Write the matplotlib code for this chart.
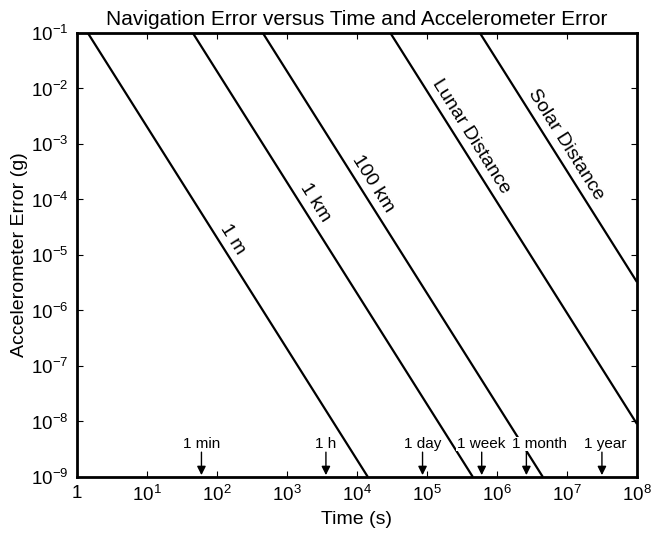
import matplotlib
matplotlib.use("Agg")
import matplotlib.pyplot as plt
import numpy as np

plt.rcParams['font.family'] = ['Liberation Sans', 'DejaVu Sans']
plt.rcParams['mathtext.fontset'] = 'custom'
plt.rcParams['mathtext.rm'] = 'Liberation Sans'
plt.rcParams['mathtext.it'] = 'Liberation Sans'

# navigation error lines: end points (time s, accel error g)
line_names = ['1 m', '1 km', '100 km', 'Lunar Distance', 'Solar Distance']
line_t = [[1.43, 1.43e4], [45.2, 4.52e5], [452, 4.52e6], [3.0e4, 1e8], [5.7e5, 1e8]]
line_a = [[1e-1, 1e-9], [1e-1, 1e-9], [1e-1, 1e-9], [1e-1, 9e-9], [1e-1, 3.25e-6]]

# time where each label sits on its line
label_t = [118, 1750, 1.18e4, 2.96e5, 6.7e6]

# time markers
event_names = ['1 min', '1 h', '1 day', '1 week', '1 month', '1 year']
event_t = [60, 3600, 86400, 604800, 2.63e6, 3.156e7]
event_label_t = [60, 3600, 86400, 5.9e5, 4.1e6, 3.5e7]

xticks = [1e0, 1e1, 1e2, 1e3, 1e4, 1e5, 1e6, 1e7, 1e8]
xticklabels = ['1'] + [r'$10^{%d}$' % i for i in range(1, 9)]
yticks = [10.0 ** -i for i in range(9, 0, -1)]
yticklabels = [r'$10^{-%d}$' % i for i in range(9, 0, -1)]

fig = plt.figure(figsize=(6.54, 5.40), dpi=100)
ax = fig.add_axes([0.1177, 0.1167, 0.8563, 0.8222])

for t, a in zip(line_t, line_a):
    ax.plot(t, a, color='black', lw=1.6, solid_capstyle='butt')

# put each name just above its line, parallel to it
for name, lt, t, a in zip(line_names, label_t, line_t, line_a):
    la = 10 ** np.interp(np.log10(lt), np.log10(t), np.log10(a))
    ax.annotate(name, xy=(lt, la), xytext=(2.5, 1.6), textcoords='offset points',
                rotation=-57.8, ha='center', va='bottom',
                rotation_mode='anchor', fontsize=14)

for name, t, tl in zip(event_names, event_t, event_label_t):
    ax.annotate('', xy=(t, 1.08e-9), xytext=(t, 2.8e-9),
                arrowprops=dict(arrowstyle='-|>', color='black', lw=1.0,
                                mutation_scale=13, shrinkA=0, shrinkB=0))
    ax.text(tl, 3.9e-9, name, ha='center', va='center', fontsize=11,
            bbox=dict(facecolor='white', edgecolor='none', pad=0.2))

ax.set_xscale('log')
ax.set_yscale('log')
ax.set_xlim(1, 1e8)
ax.set_ylim(1e-9, 1e-1)
ax.set_xticks(xticks)
ax.set_xticklabels(xticklabels, fontsize=13.5)
ax.set_yticks(yticks)
ax.set_yticklabels(yticklabels, fontsize=13.5)
ax.minorticks_off()
ax.tick_params(direction='in', length=4, width=0.8, top=True, right=True, pad=6)
for s in ax.spines.values():
    s.set_linewidth(2)

ax.set_xlabel('Time (s)', fontsize=14)
ax.set_ylabel('Accelerometer Error (g)', fontsize=14, labelpad=2)
ax.set_title('Navigation Error versus Time and Accelerometer Error', fontsize=15, pad=6)

fig.savefig('out.png', dpi=100)
